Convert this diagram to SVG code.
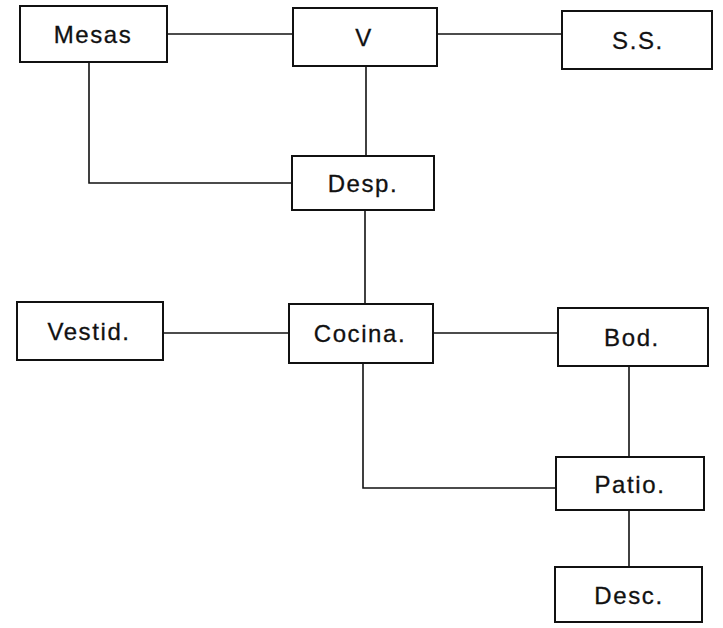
<svg xmlns="http://www.w3.org/2000/svg" width="723" height="628" viewBox="0 0 723 628">
<style>
.box{fill:#fff;stroke:#111;stroke-width:2}
.lbl{font-family:"Liberation Sans",Arial,sans-serif;font-size:24px;letter-spacing:1.6px;fill:#111;stroke:#111;stroke-width:0.3;text-anchor:middle}
.con{fill:none;stroke:#111;stroke-width:1.6}
</style>
<rect width="723" height="628" fill="#fff"/>
<g id="connectors">
<line class="con" x1="167" y1="34" x2="293" y2="34"/>
<line class="con" x1="437" y1="34" x2="562" y2="34"/>
<line class="con" x1="366" y1="66" x2="366" y2="156"/>
<polyline class="con" points="89,62 89,183 292,183"/>
<line class="con" x1="365" y1="210" x2="365" y2="304"/>
<line class="con" x1="163" y1="333" x2="289" y2="333"/>
<line class="con" x1="433" y1="333" x2="558" y2="333"/>
<line class="con" x1="629" y1="366" x2="629" y2="457"/>
<polyline class="con" points="363,363 363,488 556,488"/>
<line class="con" x1="629" y1="510" x2="629" y2="567"/>
</g>
<g id="mesas"><rect class="box" x="20" y="6" width="147" height="56"/><text class="lbl" x="93" y="42.5">Mesas</text></g>
<g id="v"><rect class="box" x="293" y="8" width="144" height="58"/><text class="lbl" x="364" y="45.5">V</text></g>
<g id="ss"><rect class="box" x="562" y="11" width="150" height="58"/><text class="lbl" x="638" y="48.5">S.S.</text></g>
<g id="desp"><rect class="box" x="292" y="156" width="142" height="54"/><text class="lbl" x="363" y="191.5">Desp.</text></g>
<g id="vestid"><rect class="box" x="17" y="302" width="146" height="58"/><text class="lbl" x="89" y="339.5">Vestid.</text></g>
<g id="cocina"><rect class="box" x="289" y="304" width="144" height="59"/><text class="lbl" x="360" y="341.5">Cocina.</text></g>
<g id="bod"><rect class="box" x="558" y="308" width="150" height="58"/><text class="lbl" x="632" y="345.5">Bod.</text></g>
<g id="patio"><rect class="box" x="556" y="457" width="148" height="53"/><text class="lbl" x="630" y="492.5">Patio.</text></g>
<g id="desc"><rect class="box" x="555" y="567" width="147" height="55"/><text class="lbl" x="629" y="603.5">Desc.</text></g>
</svg>
